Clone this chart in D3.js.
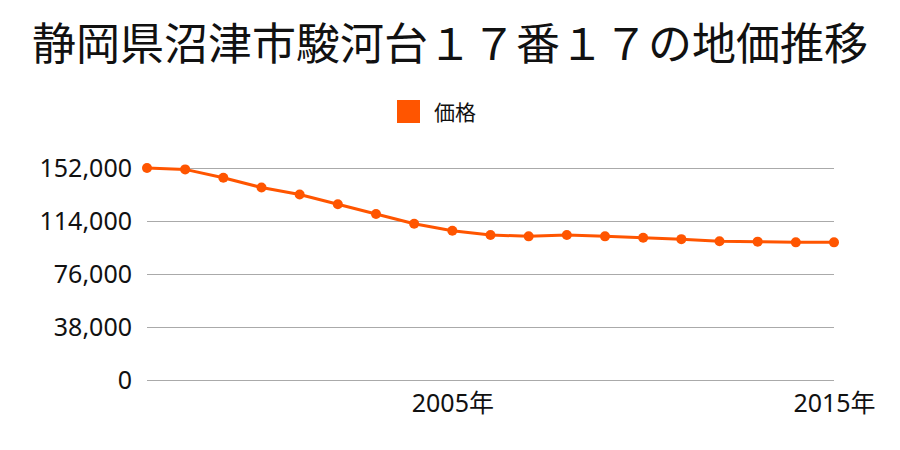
<!DOCTYPE html>
<html><head><meta charset="utf-8">
<script src="https://cdn.jsdelivr.net/npm/d3@7"></script>
<style>body{margin:0;background:#fff;}text{font-family:"Noto Sans","Noto Sans CJK JP",sans-serif;}</style>
</head><body>
<svg id="c" width="900" height="450"></svg>
<script>
const title = "静岡県沼津市駿河台１７番１７の地価推移";
const seriesName = "価格";
const years = [1997,1998,1999,2000,2001,2002,2003,2004,2005,2006,2007,2008,2009,2010,2011,2012,2013,2014,2015];
const prices = [152000,151000,145000,138000,133000,126000,119000,112000,107000,104000,103000,104000,103000,102000,101000,99500,99200,98700,98700];
const yTicks = [0,38000,76000,114000,152000];
const xTicks = [2005,2015];

const svg = d3.select("#c");
const color = "#ff5500";
const font = "'Noto Sans','Noto Sans CJK JP',sans-serif";
const x = d3.scaleLinear().domain([1997,2015]).range([147,834]);
const y = d3.scaleLinear().domain([0,152000]).range([380,168]);

svg.append("text").attr("x",450).attr("y",60).attr("text-anchor","middle")
  .attr("font-size",44).attr("fill","#111").attr("font-family","'Noto Sans CJK JP',sans-serif").text(title);

svg.append("rect").attr("x",397).attr("y",100).attr("width",23).attr("height",23).attr("fill",color);
svg.append("text").attr("x",434).attr("y",120).attr("font-size",21).attr("fill","#111")
  .attr("font-family","'Noto Sans CJK JP',sans-serif").text(seriesName);

const yAxis = d3.axisLeft(y).tickValues(yTicks).tickSize(-(834-147)).tickPadding(15)
  .tickFormat(d3.format(","));
const gy = svg.append("g").attr("transform","translate(147,0)").call(yAxis);
gy.select(".domain").remove();
gy.selectAll(".tick line").attr("stroke","#aaa").attr("stroke-width",1);
gy.selectAll(".tick text").attr("font-size",25).attr("fill","#111").attr("font-family",font);

const xAxis = d3.axisBottom(x).tickValues(xTicks).tickSize(0).tickPadding(14).tickFormat(d=>d+"年");
const gx = svg.append("g").attr("transform","translate(0,380)").call(xAxis);
gx.select(".domain").remove();
gx.selectAll(".tick text").attr("font-size",25).attr("fill","#111").attr("font-family",font);

const data = years.map((yr,i)=>({yr, v:prices[i]}));
svg.append("path").datum(data).attr("fill","none").attr("stroke",color).attr("stroke-width",3)
  .attr("d", d3.line().x(d=>x(d.yr)).y(d=>y(d.v)));
svg.selectAll("circle.pt").data(data).enter().append("circle").attr("class","pt")
  .attr("cx",d=>x(d.yr)).attr("cy",d=>y(d.v)).attr("r",5).attr("fill",color);
</script>
</body></html>
